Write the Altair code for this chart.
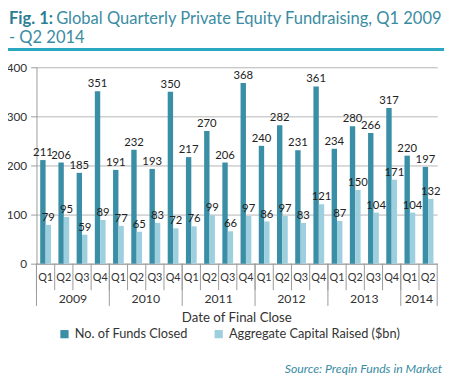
import altair as alt
import pandas as pd

years = ["2009"] * 4 + ["2010"] * 4 + ["2011"] * 4 + ["2012"] * 4 + ["2013"] * 4 + ["2014"] * 2
quarters = ["Q1", "Q2", "Q3", "Q4"] * 5 + ["Q1", "Q2"]
funds_closed = [211, 206, 185, 351, 191, 232, 193, 350, 217, 270, 206, 368,
                240, 282, 231, 361, 234, 280, 266, 317, 220, 197]
capital_raised = [79, 95, 59, 89, 77, 65, 83, 72, 76, 99, 66, 97,
                  86, 97, 83, 121, 87, 150, 104, 171, 104, 132]
series_names = ["No. of Funds Closed", "Aggregate Capital Raised ($bn)"]
year_labels = ["2009", "2010", "2011", "2012", "2013", "2014"]
y_ticks = [0, 50, 100, 150, 200, 250, 300, 350, 400]

keys = [f"{y} {q}" for y, q in zip(years, quarters)]
rows = []
for k, y, q, f, c in zip(keys, years, quarters, funds_closed, capital_raised):
    rows.append({"key": k, "year": y, "quarter": q, "series": series_names[0], "value": f})
    rows.append({"key": k, "year": y, "quarter": q, "series": series_names[1], "value": c})
df = pd.DataFrame(rows)
qdf = pd.DataFrame({"key": keys, "year": years, "quarter": quarters})

year_anchor = []
for yl in year_labels:
    ks = [k for k in keys if k.startswith(yl)]
    year_anchor.append(ks[len(ks) // 2 - 1])
ydf = pd.DataFrame({"year": year_labels, "anchor": year_anchor,
                    "start": [[k for k in keys if k.startswith(yl)][0] for yl in year_labels]})
enddf = pd.DataFrame({"key": [keys[-1]]})

W, H = 408, 200
FONT = "Lato"
DARK = "#3a8ea6"
LIGHT = "#9dcfdf"

xs = alt.Scale(domain=keys, paddingInner=0, paddingOuter=0)
x_enc = alt.X("key:N", scale=xs, sort=keys,
              axis=alt.Axis(title=None, labelExpr="split(datum.value, ' ')[1]",
                            labelAngle=0, ticks=False, domain=True, domainColor="#9a9a9a",
                            labelFont=FONT, labelFontSize=11, labelColor="#333333",
                            labelPadding=8))
xo = alt.XOffset("series:N", sort=series_names,
                 scale=alt.Scale(domain=series_names, paddingOuter=0.69, paddingInner=0))
y_enc = alt.Y("value:Q", scale=alt.Scale(domain=[0, 400], nice=False),
              axis=alt.Axis(values=y_ticks, title=None, grid=True, gridColor="#b5b5b5",
                            domainColor="#9a9a9a", tickColor="#9a9a9a", tickSize=6,
                            labelFont=FONT, labelFontSize=12, labelColor="#333333",
                            labelPadding=4))
color = alt.Color("series:N", sort=series_names,
                  scale=alt.Scale(domain=series_names, range=[DARK, LIGHT]),
                  legend=alt.Legend(title=None, orient="none", direction="horizontal",
                                    legendX=22, legendY=265, symbolType="square",
                                    symbolSize=70, symbolStrokeWidth=0,
                                    labelFont=FONT, labelFontSize=13,
                                    labelColor="#333333", columnPadding=24,
                                    labelLimit=400, symbolOpacity=1))

bars = alt.Chart(df).mark_bar().encode(x=x_enc, xOffset=xo, y=y_enc, color=color)
labels = alt.Chart(df).mark_text(dy=-7, font=FONT, fontSize=11.5, color="#222222").encode(
    x=alt.X("key:N", scale=xs, sort=keys), xOffset=xo, y="value:Q", text="value:Q")

qrules = alt.Chart(qdf).mark_rule(color="#9a9a9a", strokeWidth=1).encode(
    x=alt.X("key:N", scale=xs, sort=keys, bandPosition=0),
    y=alt.value(H), y2=alt.value(H + 27))
yrules = alt.Chart(ydf).mark_rule(color="#9a9a9a", strokeWidth=1).encode(
    x=alt.X("start:N", scale=xs, sort=keys, bandPosition=0),
    y=alt.value(H), y2=alt.value(H + 43))
erule = alt.Chart(enddf).mark_rule(color="#9a9a9a", strokeWidth=1).encode(
    x=alt.X("key:N", scale=xs, sort=keys, bandPosition=1),
    y=alt.value(H), y2=alt.value(H + 43))
ytext = alt.Chart(ydf).mark_text(font=FONT, fontSize=12.5, color="#333333", baseline="middle").encode(
    x=alt.X("anchor:N", scale=xs, sort=keys, bandPosition=1),
    y=alt.value(H + 36), text="year:N")

one = pd.DataFrame({"a": [0]})
xtitle = alt.Chart(one).mark_text(font=FONT, fontSize=13.5, color="#333333", baseline="middle").encode(
    x=alt.value(W / 2), y=alt.value(H + 55), text=alt.value("Date of Final Close"))
source = alt.Chart(one).mark_text(font=FONT, fontSize=12.5, fontStyle="italic", color="#3a8ca3",
                                  align="right", baseline="middle").encode(
    x=alt.value(W + 5), y=alt.value(H + 107), text=alt.value("Source: Preqin Funds in Market"))
TS = 16.8
t1 = alt.Chart(one).mark_text(font=FONT, fontSize=TS, fontWeight="bold", color="#2a7d93",
                              align="left", baseline="alphabetic").encode(
    x=alt.value(-28), y=alt.value(-44), text=alt.value("Fig. 1:"))
t2 = alt.Chart(one).mark_text(font=FONT, fontSize=TS, color="#3a8ca3",
                              align="left", baseline="alphabetic").encode(
    x=alt.value(20), y=alt.value(-44),
    text=alt.value("Global Quarterly Private Equity Fundraising, Q1 2009"))
t3 = alt.Chart(one).mark_text(font=FONT, fontSize=TS, color="#3a8ca3",
                              align="left", baseline="alphabetic").encode(
    x=alt.value(-28), y=alt.value(-25), text=alt.value("- Q2 2014"))
tline = alt.Chart(one).mark_rule(color="#2aa8c2", strokeWidth=3).encode(
    x=alt.value(-29), x2=alt.value(W + 7), y=alt.value(-18))

chart = alt.layer(bars, labels, qrules, yrules, erule, ytext, xtitle, source, t1, t2, t3, tline).properties(
    width=W, height=H,
    padding={"left": 29, "top": 57, "right": 11, "bottom": 110},
    autosize=alt.AutoSizeParams(type="none"),
    background="white",
).configure_view(stroke=None)

chart.save("out.html", embed_options={"renderer": "svg", "actions": False})
